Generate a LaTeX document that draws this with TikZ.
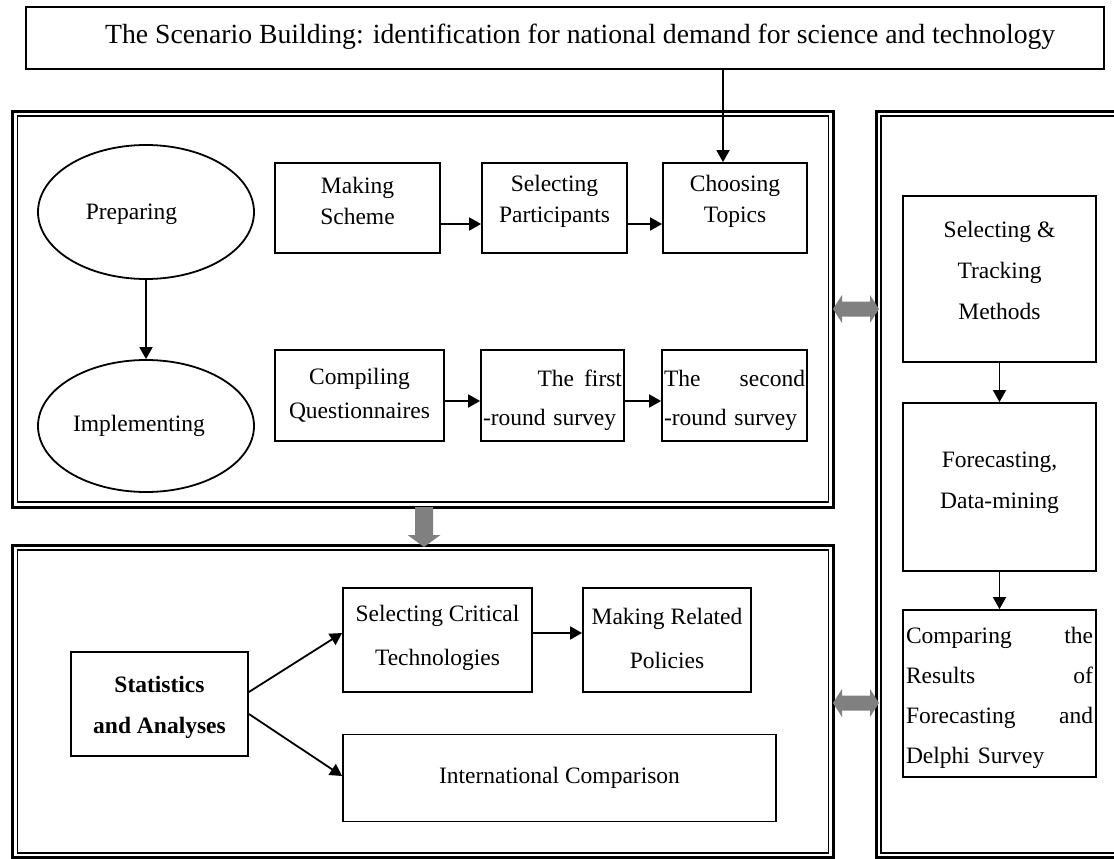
\documentclass[tikz,border=0pt]{standalone}
\usepackage{fontspec}
\setmainfont{Liberation Serif}
\usetikzlibrary{arrows.meta,calc,shapes.geometric}
\definecolor{blockgrey}{HTML}{808080}
\begin{document}
\begin{tikzpicture}[x=1pt,y=-1pt,
  box/.style={draw, line width=1.8pt, inner sep=0pt},
  txt/.style={inner sep=0pt, align=center, font=\fontsize{23.5}{31}\selectfont},
  oval/.style={draw, ellipse, line width=1.8pt, inner sep=0pt},
  outerline/.style={line width=3pt},
  innerline/.style={line width=1.8pt},
  arr/.style={-{Triangle[length=12pt,width=13pt]}, line width=1.8pt},
  blockarrow/.style={fill=blockgrey, draw=none}]
\useasboundingbox (0,0) rectangle (1114,859);
\clip (0,0) rectangle (1114,859);

% double-line frames
\draw[outerline] (12.5,111) rectangle (833,507);
\draw[innerline] (17.5,116) rectangle (828.5,502);
\draw[outerline] (12.5,545) rectangle (833,857.5);
\draw[innerline] (17.5,550) rectangle (828.5,853);
\draw[outerline] (876.5,111) rectangle (1130,857.5);
\draw[innerline] (881,116) rectangle (1125,853);

% heading
\node[box, minimum width=1078, minimum height=62] (title) at (565,38) {};
\node[txt, anchor=west, font=\fontsize{27.7}{34}\selectfont] (titleT) at (105,37)
  {The Scenario Building: identification for national demand for science and technology};

% phases
\node[oval, minimum width=216, minimum height=134] (prep) at (146,212) {};
\node[txt] (prepT) at (131.5,214) {Preparing};
\node[oval, minimum width=216, minimum height=132] (impl) at (146,426) {};
\node[txt] (implT) at (139,426) {Implementing};
\draw[arr] (prep.south) -- (impl.north);

% preparation steps
\node[box, minimum width=165, minimum height=90] (ms) at (357.5,208) {};
\node[txt] (msT) at ($(ms)+(0,-7)$) {Making\\Scheme};
\node[box, minimum width=145, minimum height=90] (sp) at (554.5,208) {};
\node[txt] (spT) at ($(sp)+(0,-7)$) {Selecting\\Participants};
\node[box, minimum width=144, minimum height=90] (ct) at (735,208) {};
\node[txt] (ctT) at ($(ct)+(0,-7)$) {Choosing\\Topics};
\coordinate (rowA) at (0,224);
\coordinate (feed) at (723,0);
\draw[arr] (ms.east |- rowA) -- (sp.west |- rowA);
\draw[arr] (sp.east |- rowA) -- (ct.west |- rowA);
\draw[arr] (title.south -| feed) -- (ct.north -| feed);

% implementation steps
\node[box, minimum width=169, minimum height=91] (cq) at (359.5,395.5) {};
\node[txt, font=\fontsize{23.5}{34}\selectfont] (cqT) at (cq) {Compiling\\Questionnaires};
\node[box, minimum width=143, minimum height=91] (tf) at (552.5,395.5) {};
\node[txt, text width=139, align=left, font=\fontsize{23.5}{39}\selectfont] (tfT) at ($(tf)+(0,5)$)
  {\hfill The\hspace{10pt}first\\-round survey};
\node[box, minimum width=145, minimum height=91] (ts) at (734.5,395.5) {};
\node[txt, text width=141, align=left, font=\fontsize{23.5}{39}\selectfont] (tsT) at ($(ts)+(0,5)$)
  {The\hfill second\\-round survey};
\coordinate (rowB) at (0,401);
\draw[arr] (cq.east |- rowB) -- (tf.west |- rowB);
\draw[arr] (tf.east |- rowB) -- (ts.west |- rowB);

% analysis
\node[box, minimum width=177, minimum height=104] (sa) at (159.5,704) {};
\node[txt, font=\fontsize{23.5}{41}\selectfont\bfseries] (saT) at ($(sa)+(0,3)$)
  {Statistics\\and Analyses};
\node[box, minimum width=189, minimum height=104] (sct) at (437.5,640) {};
\node[txt, font=\fontsize{23.5}{44}\selectfont] (sctT) at ($(sct)+(0,-2)$)
  {Selecting Critical\\Technologies};
\node[box, minimum width=168, minimum height=104] (mrp) at (667,640) {};
\node[txt, font=\fontsize{23.5}{44}\selectfont] (mrpT) at ($(mrp)+(0,-2)$)
  {Making Related\\Policies};
\node[box, minimum width=433, minimum height=87] (ic) at (559.5,778) {};
\node[txt] (icT) at (ic) {International Comparison};
\coordinate (saA) at (0,692);
\coordinate (saB) at (0,714);
\coordinate (sctIn) at (0,633);
\coordinate (icIn) at (0,776);
\draw[arr] (sa.east |- saA) -- (sct.west |- sctIn);
\draw[arr] (sa.east |- saB) -- (ic.west |- icIn);
\draw[arr] (sct.east |- sctIn) -- (mrp.west |- sctIn);

% methods column
\node[box, minimum width=193, minimum height=166] (st) at (999.5,279) {};
\node[txt, font=\fontsize{23.5}{41}\selectfont] (stT) at ($(st)+(0,-9)$)
  {Selecting \&\\Tracking\\Methods};
\node[box, minimum width=193, minimum height=168] (fd) at (999.5,487) {};
\node[txt, font=\fontsize{23.5}{41}\selectfont] (fdT) at ($(fd)+(0,-4)$)
  {Forecasting,\\Data-mining};
\node[box, minimum width=193, minimum height=167] (cr) at (999.5,693.5) {};
\node[txt, text width=187, align=left, font=\fontsize{23.5}{40}\selectfont] (crT) at ($(cr)+(0,4)$)
  {Comparing\hfill the\\Results\hfill of\\Forecasting\hfill and\\Delphi Survey};
\draw[arr] (st.south) -- (fd.north);
\draw[arr] (fd.south) -- (cr.north);

% grey block arrows between the frames
\fill[blockarrow] (415,507) -- (433,507) -- (433,535) -- (440.5,535) -- (424,547)
  -- (407.5,535) -- (415,535) -- cycle;
\foreach \cy in {309,703}{
  \fill[blockarrow] (833,\cy) -- (842,\cy-14) -- (842,\cy-7.5) -- (870,\cy-7.5)
    -- (870,\cy-14) -- (879,\cy) -- (870,\cy+14) -- (870,\cy+7.5) -- (842,\cy+7.5)
    -- (842,\cy+14) -- cycle;
}
\end{tikzpicture}
\end{document}
